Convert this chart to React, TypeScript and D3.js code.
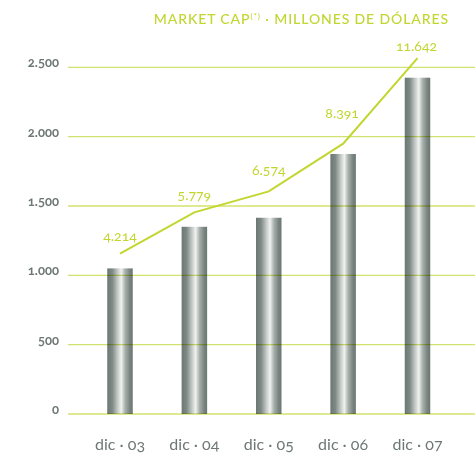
import React from "react";
import * as d3 from "d3";

const categories = ["dic · 03", "dic · 04", "dic · 05", "dic · 06", "dic · 07"];
const barValues = [1050, 1350, 1415, 1875, 2425];
const marketCap = [4214, 5779, 6574, 8391, 11642];
const marketCapLabels = ["4.214", "5.779", "6.574", "8.391", "11.642"];
const yTicks = [0, 500, 1000, 1500, 2000, 2500];
const yTickLabels = ["0", "500", "1.000", "1.500", "2.000", "2.500"];

// layout-only label offsets (dx, dy) relative to line points
const labelOffsets: [number, number][] = [
  [0, -13],
  [0, -12],
  [0, -16],
  [-1, -26],
  [-1, -7],
];

const W = 475;
const H = 454;
const GREEN = "#c2d62f";
const GRID = "#d3e26e";
const GRAY = "#6d7875";

export default function App() {
  const x = d3.scalePoint<string>().domain(categories).range([120, 417.5]);
  const y = d3.scaleLinear().domain([0, 2500]).range([414, 67.3]);
  // secondary scale for market cap line
  const yLine = d3.scaleLinear().domain([-1885, 11292]).range([414, 67.3]);
  const barW = 25.5;

  const line = d3
    .line<number>()
    .x((_, i) => x(categories[i])!)
    .y((d) => yLine(d));

  return (
    <svg
      width={W}
      height={H}
      style={{ position: "absolute", left: 0, top: 0, background: "#fff" }}
      fontFamily="Lato, 'Open Sans', sans-serif"
    >
      <defs>
        <linearGradient id="barGrad" x1="0" x2="1" y1="0" y2="0">
          <stop offset="0" stopColor="#6b7773" />
          <stop offset="0.2" stopColor="#7f8a86" />
          <stop offset="0.42" stopColor="#c9cecb" />
          <stop offset="0.55" stopColor="#f0f2f0" />
          <stop offset="0.7" stopColor="#a9b1ad" />
          <stop offset="0.88" stopColor="#7a8581" />
          <stop offset="1" stopColor="#6b7773" />
        </linearGradient>
      </defs>

      <text
        x={449}
        y={24}
        textAnchor="end"
        fill={GREEN}
        fontSize={14}
        letterSpacing={0.9}
        fontWeight={500}
      >
        MARKET CAP
        <tspan fontSize={8} dy={-5}>(*)</tspan>
        <tspan dy={5}>{" · MILLONES DE DÓLARES"}</tspan>
      </text>

      {categories.map((c, i) => (
        <rect
          key={c}
          x={x(c)! - barW / 2}
          y={y(barValues[i])}
          width={barW}
          height={y(0) - y(barValues[i])}
          fill="url(#barGrad)"
        />
      ))}

      {yTicks.map((t) => (
        <line
          key={t}
          x1={68}
          x2={W}
          y1={y(t)}
          y2={y(t)}
          stroke={GRID}
          strokeWidth={1.3}
          style={{ mixBlendMode: "multiply" }}
        />
      ))}

      {yTicks.map((t, i) => (
        <text
          key={t}
          x={59}
          y={y(t)}
          textAnchor="end"
          fill={GRAY}
          fontSize={13}
          fontWeight={700}
          style={{ fontVariantNumeric: "oldstyle-nums" }}
        >
          {yTickLabels[i]}
        </text>
      ))}

      <path d={line(marketCap) || ""} fill="none" stroke={GREEN} strokeWidth={2} />

      {marketCap.map((v, i) => (
        <text
          key={i}
          x={x(categories[i])! + labelOffsets[i][0]}
          y={yLine(v) + labelOffsets[i][1]}
          textAnchor="middle"
          fill={GREEN}
          fontSize={14}
          style={{ fontVariantNumeric: "oldstyle-nums" }}
        >
          {marketCapLabels[i]}
        </text>
      ))}

      {categories.map((c) => (
        <text
          key={c}
          x={x(c)!}
          y={450}
          textAnchor="middle"
          fill={GRAY}
          fontSize={16}
          style={{ fontVariantNumeric: "oldstyle-nums" }}
        >
          {c}
        </text>
      ))}
    </svg>
  );
}
